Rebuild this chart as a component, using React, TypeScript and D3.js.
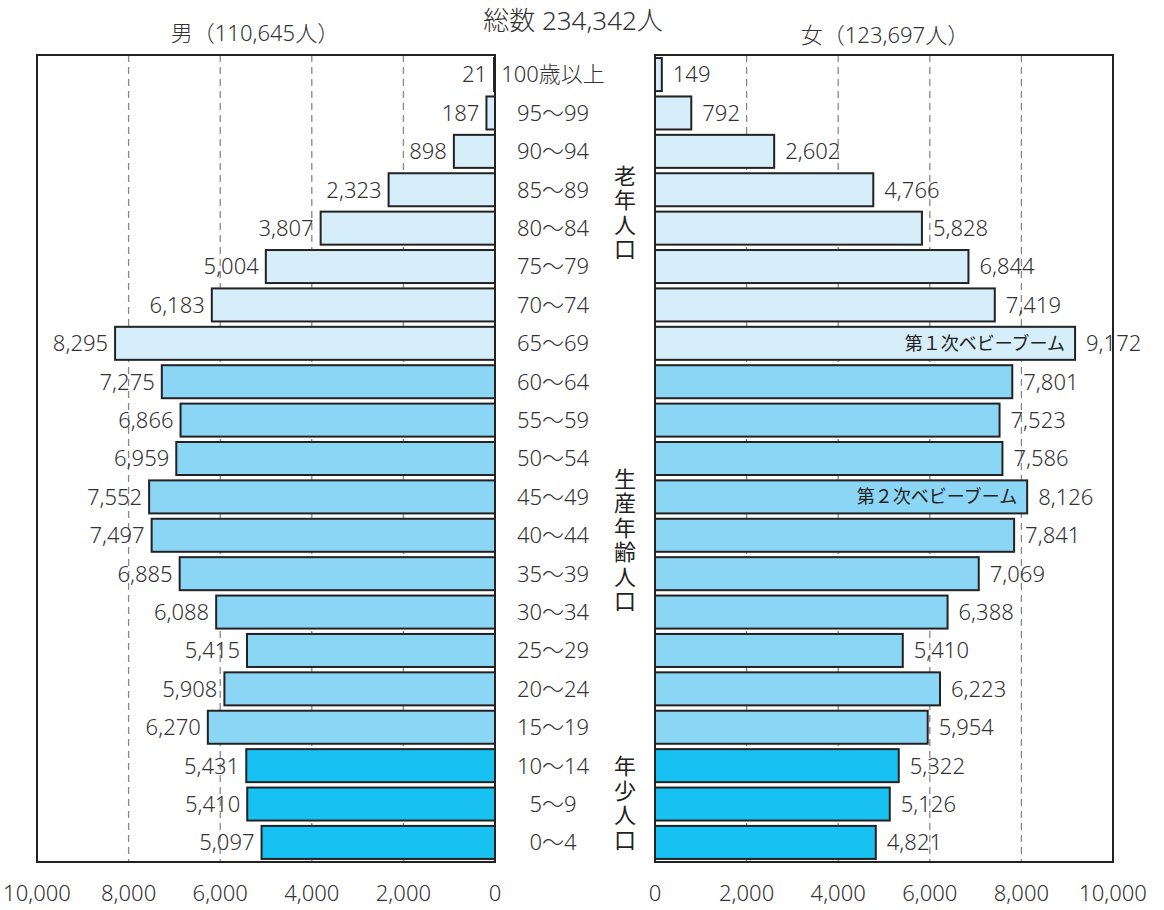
import * as d3 from 'd3';

const ages = ['100歳以上', '95～99', '90～94', '85～89', '80～84', '75～79', '70～74', '65～69', '60～64', '55～59', '50～54', '45～49', '40～44', '35～39', '30～34', '25～29', '20～24', '15～19', '10～14', '5～9', '0～4'];
const male = [21, 187, 898, 2323, 3807, 5004, 6183, 8295, 7275, 6866, 6959, 7552, 7497, 6885, 6088, 5415, 5908, 6270, 5431, 5410, 5097];
const female = [149, 792, 2602, 4766, 5828, 6844, 7419, 9172, 7801, 7523, 7586, 8126, 7841, 7069, 6388, 5410, 6223, 5954, 5322, 5126, 4821];
// 0 = 老年, 1 = 生産年齢, 2 = 年少
const groupOf = [0, 0, 0, 0, 0, 0, 0, 0, 1, 1, 1, 1, 1, 1, 1, 1, 1, 1, 2, 2, 2];
const groupColors = ['#d6eefa', '#8cd6f5', '#17c1f1'];
// row position (fractional band index) where each vertical label is centred
const groupLabels = [
  { text: '老年人口', at: 3.62 },
  { text: '生産年齢人口', at: 12.15 },
  { text: '年少人口', at: 19.0 },
];
const notes = [
  { age: '65～69', text: '第１次ベビーブーム' },
  { age: '45～49', text: '第２次ベビーブーム' },
];
const ticks = [0, 2000, 4000, 6000, 8000, 10000];

const W = 1164;
const H = 910;
const top = 55;
const bottom = 862;
const fmt = d3.format(',');
const font = '"Noto Sans CJK JP", "Noto Sans", sans-serif';
const numFont = '"Noto Sans", "Noto Sans CJK JP", sans-serif';
const ink = '#333';

export default function App() {
  const xL = d3.scaleLinear().domain([0, 10000]).range([495, 37]);
  const xR = d3.scaleLinear().domain([0, 10000]).range([655, 1113]);
  const y = d3.scaleBand().domain(ages).range([top, bottom]).paddingInner(0.14).paddingOuter(0.08);
  const step = y.step();
  const mid = (a: string) => (y(a) as number) + y.bandwidth() / 2;
  const midAt = (k: number) => (y(ages[0]) as number) + y.bandwidth() / 2 + step * k;

  const panel = (x: d3.ScaleLinear<number, number>, vals: number[], side: 'L' | 'R') => (
    <g>
      {ticks.slice(1, 5).map(t => (
        <line key={t} x1={x(t)} x2={x(t)} y1={top} y2={bottom} stroke="#888" strokeWidth={1.3} strokeDasharray="7,5" />
      ))}
      {vals.map((v, i) => {
        const x0 = Math.min(x(0), x(v));
        const w = Math.abs(x(v) - x(0));
        return (
          <rect key={i} x={x0} y={y(ages[i])} width={w} height={y.bandwidth()}
            fill={groupColors[groupOf[i]]} stroke="#222" strokeWidth={2} />
        );
      })}
      {vals.map((v, i) => (
        <text key={'t' + i} x={side === 'L' ? x(v) - 7 : x(v) + 11} y={mid(ages[i])} dy="0.36em"
          textAnchor={side === 'L' ? 'end' : 'start'} fontFamily={numFont} fontSize={22} fill={ink}>{fmt(v)}</text>
      ))}
      <rect x={Math.min(x(0), x(10000))} y={top} width={Math.abs(x(10000) - x(0))} height={bottom - top}
        fill="none" stroke="#222" strokeWidth={2} />
      {ticks.map(t => (
        <text key={'a' + t} x={x(t)} y={893} dy="0.36em" textAnchor="middle" fontFamily={numFont} fontSize={22} fill={ink}>{fmt(t)}</text>
      ))}
    </g>
  );

  return (
    <svg width={W} height={H}
      style={{ fontFamily: font, fontWeight: 300, display: 'block', position: 'absolute', left: 0, top: 0 }}>
      <rect width={W} height={H} fill="#fff" />
      <text x={573} y={21} dy="0.36em" textAnchor="middle" fontFamily={numFont} fontSize={26} fill={ink}>総数 234,342人</text>
      <text x={255} y={33} dy="0.36em" textAnchor="middle" fontFamily={numFont} fontSize={22} fill={ink}>男（110,645人）</text>
      <text x={885} y={35} dy="0.36em" textAnchor="middle" fontFamily={numFont} fontSize={22} fill={ink}>女（123,697人）</text>
      {panel(xL, male, 'L')}
      {panel(xR, female, 'R')}
      {ages.map(a => (
        <text key={a} x={553} y={mid(a)} dy="0.36em" textAnchor="middle" fontFamily={numFont} fontSize={22} fill={ink}>{a}</text>
      ))}
      {groupLabels.map(g => (
        <text key={g.text} x={625} y={midAt(g.at)} textAnchor="middle" fontSize={22} fontWeight={400}
          letterSpacing={2.5} fill="#222" style={{ writingMode: 'vertical-rl' }}>{g.text}</text>
      ))}
      {notes.map(n => {
        const i = ages.indexOf(n.age);
        return (
          <text key={n.text} x={xR(female[i]) - 10} y={mid(n.age)} dy="0.36em" textAnchor="end" fontSize={18} fontWeight={400} fill="#222">{n.text}</text>
        );
      })}
    </svg>
  );
}
